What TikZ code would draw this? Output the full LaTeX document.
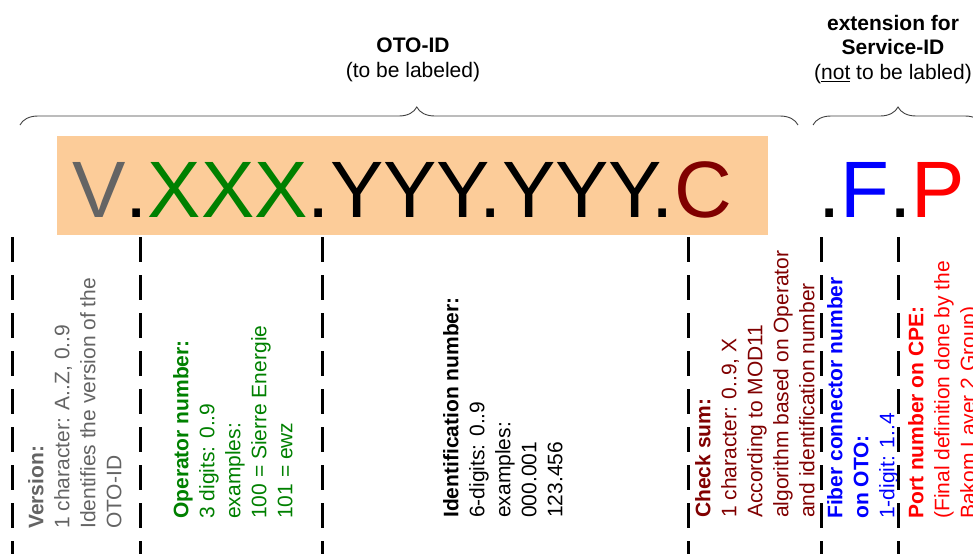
\documentclass[tikz,border=0pt]{standalone}
\usepackage{fontspec}
\setmainfont{Liberation Sans}
\usetikzlibrary{decorations.pathreplacing}
\definecolor{peach}{RGB}{252,204,153}
\definecolor{vgray}{RGB}{100,100,100}
\definecolor{opgreen}{RGB}{0,128,0}
\definecolor{csred}{RGB}{128,0,0}
\definecolor{fblue}{RGB}{0,0,255}
\definecolor{pred}{RGB}{255,0,0}
\definecolor{bracegray}{RGB}{64,64,64}
\begin{document}
\begin{tikzpicture}[x=1pt,y=-1pt,
  coltext/.style={rotate=90, anchor=north west, align=left, inner sep=0pt, font=\fontsize{21}{26}\selectfont},
  titletext/.style={anchor=north, align=center, inner sep=0pt, font=\fontsize{21}{24.5}\selectfont},
  sepline/.style={line width=3pt, dash pattern=on 25pt off 13pt},
  bracestyle/.style={decorate, draw=bracegray, line width=0.9pt},
  bigtext/.style={anchor=base west, inner sep=0pt, font=\fontsize{80}{90}\selectfont}]
\useasboundingbox (0,0) rectangle (973,554);
\clip (0,0) rectangle (973,554);

% titles
\node[titletext] (t1) at (413,38) {\textbf{OTO-ID}\\(to be labeled)};
\node[titletext] (t2) at (893,15) {\textbf{extension for}\\\textbf{Service-ID}\\(\underline{not} to be labled)};

% braces
\draw[bracestyle, decoration={brace, amplitude=18pt, aspect=0.51}] (20,125) -- (798,125);
\draw[bracestyle, decoration={brace, amplitude=18pt, aspect=0.5}] (813,125) -- (983,125);

% orange box and identifier
\node[fill=peach, minimum width=711pt, minimum height=99pt, inner sep=0pt, anchor=north west] (box) at (57,136) {};
\node[bigtext] (oto) at (72,217) {\textcolor{vgray}{V}.\textcolor{opgreen}{XXX}.YYY.YYY.\textcolor{csred}{C}};
\node[bigtext] (ext) at (818,217) {.\textcolor{fblue}{F}.\textcolor{pred}{P}};

% column texts
\node[coltext, text=vgray] (ver) at (28,529) {\textbf{Version:}\\1 character: A..Z, 0..9\\Identifies the version of the\\OTO-ID};
\node[coltext, text=opgreen] (op) at (173,519) {\textbf{Operator number:}\\3 digits: 0..9\\examples:\\100 = Sierre Energie\\101 = ewz};
\node[coltext, text=black] (idn) at (443,518) {\textbf{Identification number:}\\6-digits: 0..9\\examples:\\000.001\\123.456};
\node[coltext, text=csred] (cs) at (695,518) {\textbf{Check sum:}\\1 character: 0..9, X\\According to MOD11\\algorithm based on Operator\\and identification number};
\node[coltext, text=fblue] (fib) at (827,519) {\textbf{Fiber connector number}\\\textbf{on OTO:}\\1-digit: 1..4};
\node[coltext, text=pred] (port) at (908,519) {\textbf{Port number on CPE:}\\(Final definition done by the\\Bakom Layer 2 Group)};

% separators
\coordinate (s1a) at (12,237);  \coordinate (s1b) at (12,554);
\coordinate (s2a) at (140,237); \coordinate (s2b) at (140,554);
\coordinate (s3a) at (322,237); \coordinate (s3b) at (322,554);
\coordinate (s4a) at (688,237); \coordinate (s4b) at (688,554);
\coordinate (s5a) at (821,237); \coordinate (s5b) at (821,554);
\coordinate (s6a) at (898,237); \coordinate (s6b) at (898,554);
\foreach \i in {1,...,6} \draw[sepline] (s\i a) -- (s\i b);
\end{tikzpicture}
\end{document}
